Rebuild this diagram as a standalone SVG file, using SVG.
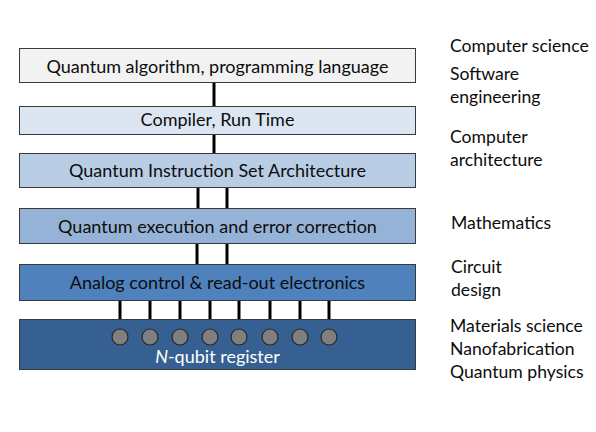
<svg xmlns="http://www.w3.org/2000/svg" width="596" height="432" viewBox="0 0 596 432">
<style>
text{font-family:"Lato","Open Sans","Liberation Sans",sans-serif;font-size:18px;fill:#0d0d0d}
.c{text-anchor:middle}
.r{font-size:17.6px}
.box{stroke:#3a3a3a;stroke-width:1}
.ln{stroke:#000;stroke-width:3;fill:none}
.q{fill:#7f7f7f;stroke:#262626;stroke-width:1.2}
</style>
<rect width="596" height="432" fill="#fff"/>
<g id="connectors">
<line class="ln" x1="214" y1="82" x2="214" y2="106"/>
<line class="ln" x1="214" y1="134" x2="214" y2="153"/>
<line class="ln" x1="198" y1="187" x2="198" y2="208"/>
<line class="ln" x1="227" y1="187" x2="227" y2="208"/>
<line class="ln" x1="197" y1="244" x2="197" y2="264"/>
<line class="ln" x1="227" y1="244" x2="227" y2="264"/>
<line class="ln" x1="120" y1="301" x2="120" y2="337"/>
<line class="ln" x1="150" y1="301" x2="150" y2="337"/>
<line class="ln" x1="180" y1="301" x2="180" y2="337"/>
<line class="ln" x1="210" y1="301" x2="210" y2="337"/>
<line class="ln" x1="239" y1="301" x2="239" y2="337"/>
<line class="ln" x1="270" y1="301" x2="270" y2="337"/>
<line class="ln" x1="300" y1="301" x2="300" y2="337"/>
<line class="ln" x1="329" y1="301" x2="329" y2="337"/>
</g>
<g id="algorithm"><rect class="box" x="19.5" y="48.5" width="396" height="34" fill="#f2f2f2"/><text class="c" x="217.5" y="73">Quantum algorithm, programming language</text></g>
<g id="compiler"><rect class="box" x="19.5" y="106.5" width="396" height="28" fill="#dce6f2"/><text class="c" x="217.5" y="126">Compiler, Run Time</text></g>
<g id="isa"><rect class="box" x="19.5" y="153.5" width="396" height="34" fill="#b9cde5"/><text class="c" x="217.5" y="177">Quantum Instruction Set Architecture</text></g>
<g id="qec"><rect class="box" x="19.5" y="208.5" width="396" height="35" fill="#95b3d7"/><text class="c" x="217.5" y="233">Quantum execution and error correction</text></g>
<g id="analog"><rect class="box" x="19.5" y="264.5" width="396" height="36" fill="#4f81bd"/><text class="c" x="217.5" y="289">Analog control &amp; read-out electronics</text></g>
<g id="register"><rect class="box" x="19.5" y="319.5" width="396" height="50" fill="#376092"/>
<circle class="q" cx="120" cy="337" r="8"/><circle class="q" cx="150" cy="337" r="8"/><circle class="q" cx="180" cy="337" r="8"/><circle class="q" cx="210" cy="337" r="8"/><circle class="q" cx="239" cy="337" r="8"/><circle class="q" cx="270" cy="337" r="8"/><circle class="q" cx="300" cy="337" r="8"/><circle class="q" cx="329" cy="337" r="8"/>
<text class="c" x="217.5" y="363" style="fill:#fff"><tspan font-style="italic">N</tspan>-qubit register</text></g>
<g id="labels">
<text class="r" x="450" y="52">Computer science</text>
<text class="r" x="450" y="80">Software</text>
<text class="r" x="450" y="103">engineering</text>
<text class="r" x="450" y="143">Computer</text>
<text class="r" x="450" y="166">architecture</text>
<text class="r" x="451" y="229">Mathematics</text>
<text class="r" x="451" y="273">Circuit</text>
<text class="r" x="451" y="296">design</text>
<text class="r" x="450" y="332">Materials science</text>
<text class="r" x="450" y="355">Nanofabrication</text>
<text class="r" x="450" y="378">Quantum physics</text>
</g>
</svg>
